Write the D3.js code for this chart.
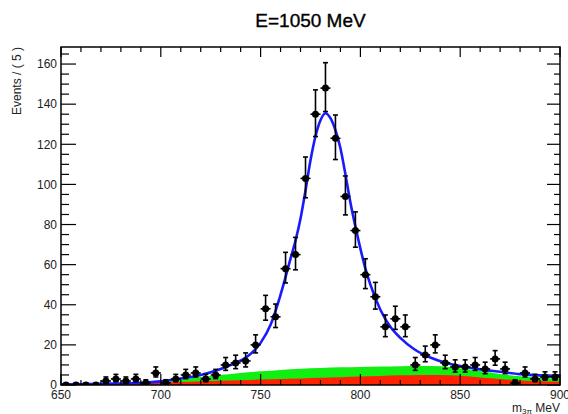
<!DOCTYPE html>
<html><head><meta charset="utf-8">
<script src="https://cdn.jsdelivr.net/npm/d3@7"></script>
<style>html,body{margin:0;padding:0;background:#fff;}svg{display:block;font-family:"Liberation Sans",Arial,sans-serif;}</style>
</head><body>
<svg id="c" width="568" height="414"></svg>
<script>
const titleText = "E=1050 MeV";
const yTitle = "Events / ( 5 )";
const xTicks = [650, 700, 750, 800, 850, 900];
const yTicks = [0, 20, 40, 60, 80, 100, 120, 140, 160];

const mass = [652.5,657.5,662.5,667.5,672.5,677.5,682.5,687.5,692.5,697.5,
  702.5,707.5,712.5,717.5,722.5,727.5,732.5,737.5,742.5,747.5,
  752.5,757.5,762.5,767.5,772.5,777.5,782.5,787.5,792.5,797.5,
  802.5,807.5,812.5,817.5,822.5,827.5,832.5,837.5,842.5,847.5,
  852.5,857.5,862.5,867.5,872.5,877.5,882.5,887.5,892.5,897.5];
const events = [0,0,0,0,2,3,2,3,1,6,
  1,3,5,6,3,5,10,11,12,20,
  38,34,58,65,103,135,148,123,94,77,
  55,44,29,33,29,10,15,20,11,9,
  9,10,8,13,8,1,6,3,4,4];

const fitMass = [650,670,690,700,710,720,730,737.5,745,750,755,760,765,767.5,770,772.5,775,777.5,780,782.5,785,787.5,790,792.5,795,797.5,800,802.5,805,810,815,820,827,835,843,850,860,870,880,890,900];
const fitValue = [0.3,0.6,1.1,1.8,3.2,5,8,11,15.5,21,30,45,63,72,83,97,112,124,132,135.5,133,127,118,105,91,79,68,58,50,37.5,29,23.5,17.8,13.7,11,9.5,7.8,6.6,5.4,4.8,4.6];

const bkgMass = [650,660,670,680,690,700,710,720,730,740,750,760,770,780,790,800,810,820,830,840,850,860,870,880,890,900];
const bkgTotal = [0,0.1,0.3,0.6,1,1.8,2.8,4,5,6,6.8,7.5,8.1,8.5,8.8,9,9.2,9.4,9.5,9.3,8.4,7,5.5,4.3,3.6,3.3];
const bkgRed = [0,0.1,0.3,0.5,0.8,1.2,1.5,1.9,2.1,2.4,2.7,3,3.3,3.6,3.9,4.2,4.5,4.8,5,5,4.6,3.8,3,2.3,1.9,1.6];

const svg = d3.select("#c");
const L = 61, R = 560, T = 47, B = 385;
const x = d3.scaleLinear().domain([650, 900]).range([L, R]);
const y = d3.scaleLinear().domain([0, 168.5]).range([B, T]);

const defs = svg.append("defs");
defs.append("clipPath").attr("id","clip").append("rect").attr("x",L).attr("y",T).attr("width",R-L).attr("height",B-T);
const plot = svg.append("g").attr("clip-path","url(#clip)");

const bk = bkgMass.map((m,i)=>({m, g:bkgTotal[i], r:bkgRed[i]}));
plot.append("path").datum(bk)
  .attr("d", d3.area().x(d=>x(d.m)).y0(y(0)).y1(d=>y(d.g)).curve(d3.curveMonotoneX))
  .attr("fill","#11ee11");
plot.append("path").datum(bk)
  .attr("d", d3.area().x(d=>x(d.m)).y0(y(0)).y1(d=>y(d.r)).curve(d3.curveMonotoneX))
  .attr("fill","#ff2200");

const fit = fitMass.map((m,i)=>({m, v:fitValue[i]}));
plot.append("path").datum(fit)
  .attr("d", d3.line().x(d=>x(d.m)).y(d=>y(d.v)).curve(d3.curveMonotoneX))
  .attr("fill","none").attr("stroke","#1a1aff").attr("stroke-width",2.6);

// data points
const pts = mass.map((m,i)=>{const n=events[i]; const s=Math.sqrt(n+0.25); return {m, n, lo:Math.max(0,n+0.5-s), hi:n+0.5+s};});
const pg = plot.append("g").attr("stroke","#000").attr("stroke-width",1.6);
pts.forEach(p=>{
  const cx = x(p.m), cy = y(p.n);
  pg.append("line").attr("x1",x(p.m-2.5)).attr("x2",x(p.m+2.5)).attr("y1",cy).attr("y2",cy);
  pg.append("line").attr("x1",cx).attr("x2",cx).attr("y1",y(p.lo)).attr("y2",y(p.hi));
  pg.append("line").attr("x1",cx-2.5).attr("x2",cx+2.5).attr("y1",y(p.hi)).attr("y2",y(p.hi));
  pg.append("line").attr("x1",cx-2.5).attr("x2",cx+2.5).attr("y1",y(p.lo)).attr("y2",y(p.lo));
  pg.append("circle").attr("cx",cx).attr("cy",cy).attr("r",3.5).attr("fill","#000").attr("stroke","none");
});

// axes
const ax = svg.append("g").attr("stroke","#000").attr("stroke-width",1.2);
const yMinor = d3.range(0, 168.5, 5);
yMinor.forEach(v=>{
  const maj = v % 20 === 0;
  ax.append("line").attr("x1",L).attr("x2",L+(maj?15:8)).attr("y1",y(v)).attr("y2",y(v));
  ax.append("line").attr("x1",R).attr("x2",R-(maj?13:6)).attr("y1",y(v)).attr("y2",y(v));
});
const xMinor = d3.range(650, 901, 10);
xMinor.forEach(v=>{
  const maj = v % 50 === 0;
  ax.append("line").attr("x1",x(v)).attr("x2",x(v)).attr("y1",B).attr("y2",B-(maj?11:5));
  ax.append("line").attr("x1",x(v)).attr("x2",x(v)).attr("y1",T).attr("y2",T+(maj?10:5));
});
svg.append("rect").attr("x",L).attr("y",T).attr("width",R-L).attr("height",B-T)
  .attr("fill","none").attr("stroke","#000").attr("stroke-width",1.5);

const tg = svg.append("g").attr("fill","#222").attr("font-size","12px");
yTicks.forEach(v=>{
  tg.append("text").attr("x",L-4).attr("y",y(v)+4.3).attr("text-anchor","end").text(v);
});
xTicks.forEach(v=>{
  tg.append("text").attr("x",x(v)).attr("y",B+13.5).attr("text-anchor","middle").text(v);
});

svg.append("text").attr("x",310.5).attr("y",27).attr("text-anchor","middle")
  .attr("font-size","19px").attr("fill","#000").attr("stroke","#000").attr("stroke-width",0.35)
  .text(titleText);

svg.append("text").attr("transform","translate(21,47) rotate(-90)")
  .attr("text-anchor","end").attr("font-size","12px").attr("fill","#222").text(yTitle);

const xt = svg.append("text").attr("x",560).attr("y",412).attr("text-anchor","end")
  .attr("font-size","12px").attr("fill","#222");
xt.append("tspan").text("m");
xt.append("tspan").attr("font-size","8px").attr("dy",2).text("3\u03C0");
xt.append("tspan").attr("dy",-2).text(" MeV");
</script>
</body></html>
